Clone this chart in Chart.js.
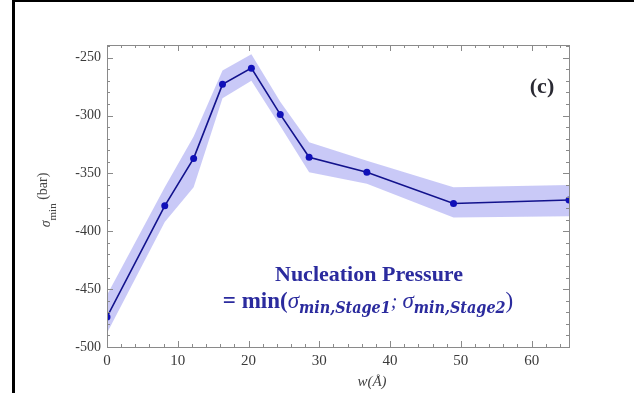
<!DOCTYPE html>
<html><head><meta charset="utf-8">
<script src="https://cdn.jsdelivr.net/npm/chart.js@4"></script>
<style>
html,body{margin:0;padding:0;background:#fff;overflow:hidden;}
canvas{display:block;}
</style></head><body>
<canvas id="c" width="634" height="393"></canvas>
<script>
const widths = [0, 8.16, 12.24, 16.32, 20.4, 24.48, 28.56, 36.72, 48.96, 65.28];
const sigmaMin = [-474, -378, -337, -273, -259, -299, -336, -349, -376, -373];
const bandUpper = [-455, -362, -318, -261, -247, -288, -323, -339, -362, -360];
const bandLower = [-488, -392, -362, -285, -270, -309, -349, -359, -388, -387];
const xTicks = [0, 10, 20, 30, 40, 50, 60];
const yTicks = [-500, -450, -400, -350, -300, -250];
const xMinorTicks = [2,4,6,8,12,14,16,18,22,24,26,28,32,34,36,38,42,44,46,48,52,54,56,58,62,64];
const yMinorTicks = [-490,-480,-470,-460,-440,-430,-420,-410,-390,-380,-370,-360,-340,-330,-320,-310,-290,-280,-270,-260,-240];

const pts = arr => widths.map((w, i) => ({x: w, y: arr[i]}));

const decor = {
  id: 'decor',
  beforeDraw(chart) {
    const ctx = chart.ctx;
    ctx.save();
    ctx.fillStyle = '#fff';
    ctx.fillRect(0, 0, chart.width, chart.height);
    ctx.fillStyle = '#000';
    ctx.fillRect(12, 0, 3, chart.height);
    ctx.fillRect(12, 0, chart.width - 12, 2);
    ctx.restore();
  },
  afterDatasetsDraw(chart) {
    const ctx = chart.ctx, a = chart.chartArea;
    const xs = chart.scales.x, ys = chart.scales.y;
    ctx.save();
    ctx.strokeStyle = '#8a8a8a';
    ctx.lineWidth = 1;
    ctx.strokeRect(Math.round(a.left) + 0.5, Math.round(a.top) + 0.5, Math.round(a.right - a.left), Math.round(a.bottom - a.top));
    ctx.beginPath();
    const tick = (vals, len, isX) => {
      vals.forEach(v => {
        if (isX) {
          const p = Math.round(xs.getPixelForValue(v)) + 0.5;
          ctx.moveTo(p, a.bottom); ctx.lineTo(p, a.bottom - len);
          ctx.moveTo(p, a.top); ctx.lineTo(p, a.top + len);
        } else {
          const p = Math.round(ys.getPixelForValue(v)) + 0.5;
          ctx.moveTo(a.left, p); ctx.lineTo(a.left + len, p);
          ctx.moveTo(a.right, p); ctx.lineTo(a.right - len, p);
        }
      });
    };
    tick(xTicks, 6, true); tick(xMinorTicks, 3, true);
    tick(yTicks, 6, false); tick(yMinorTicks, 3, false);
    ctx.stroke();

    // axis titles
    ctx.fillStyle = '#444';
    ctx.textBaseline = 'alphabetic';
    ctx.font = 'italic 15px "Liberation Serif"';
    ctx.textAlign = 'left';
    const xt = 'w(Å)';
    const wx = ctx.measureText(xt).width;
    ctx.fillText(xt, 372 - wx / 2, 386);

    ctx.save();
    ctx.translate(50, 200);
    ctx.rotate(-Math.PI / 2);
    const s = 'σ';
    ctx.font = '11px "Liberation Serif"';
    const wMin = ctx.measureText('min').width;
    ctx.font = '14px "Liberation Serif"';
    const wBar = ctx.measureText(' (bar)').width;
    ctx.font = 'italic 14px "Liberation Serif"';
    const wS = ctx.measureText(s).width;
    let x0 = -(wS + wMin + wBar) / 2;
    ctx.fillText(s, x0, 0);
    ctx.font = '11px "Liberation Serif"';
    ctx.fillText('min', x0 + wS, 6);
    ctx.font = '14px "Liberation Serif"';
    ctx.fillText(' (bar)', x0 + wS + wMin, -3);
    ctx.restore();

    // panel label
    ctx.fillStyle = '#2a2a33';
    ctx.font = 'bold 22px "Liberation Serif"';
    ctx.textAlign = 'center';
    ctx.fillText('(c)', 542, 93);

    // annotation
    ctx.fillStyle = '#2b2b9e';
    ctx.font = 'bold 22px "Liberation Serif"';
    ctx.fillText('Nucleation Pressure', 369, 281);
    const runs = [
      ['= min(', 'bold 23px "Liberation Serif"', 0],
      ['σ', 'italic 23px "Liberation Serif"', 0],
      ['min,Stage1', 'bold italic 16px "DejaVu Serif Condensed", "DejaVu Serif"', 5],
      ['; ', 'italic 20px "Liberation Serif"', 0],
      ['σ', 'italic 23px "Liberation Serif"', 0],
      ['min,Stage2', 'bold italic 16px "DejaVu Serif Condensed", "DejaVu Serif"', 5],
      [')', '23px "Liberation Serif"', 0]
    ];
    let total = 0;
    runs.forEach(r => { ctx.font = r[1]; total += ctx.measureText(r[0]).width; });
    let cx = 368 - total / 2;
    ctx.textAlign = 'left';
    runs.forEach(r => { ctx.font = r[1]; ctx.fillText(r[0], cx, 308 + r[2]); cx += ctx.measureText(r[0]).width; });
    ctx.restore();
  }
};

new Chart(document.getElementById('c'), {
  type: 'scatter',
  data: {
    datasets: [
      { data: pts(sigmaMin), showLine: true, borderColor: '#12128c', borderWidth: 1.6,
        pointRadius: 3.5, pointBackgroundColor: '#1010b8', pointBorderWidth: 0, fill: false },
      { data: pts(bandUpper), showLine: true, borderWidth: 0, pointRadius: 0,
        backgroundColor: 'rgba(105,105,232,0.36)', fill: '+1' },
      { data: pts(bandLower), showLine: true, borderWidth: 0, pointRadius: 0, fill: false }
    ]
  },
  options: {
    responsive: false,
    animation: false,
    devicePixelRatio: 1,
    layout: { padding: { left: 0, top: 45, right: 65, bottom: 0 } },
    plugins: { legend: { display: false }, tooltip: { enabled: false } },
    scales: {
      x: {
        type: 'linear', min: 0, max: 65.28,
        afterFit: s => { s.height = 46; },
        afterBuildTicks: s => { s.ticks = xTicks.map(v => ({ value: v })); },
        grid: { display: false, drawTicks: false },
        border: { display: false },
        ticks: { padding: 5, color: '#3a3a3a', font: { family: '"Liberation Serif"', size: 15 }, maxRotation: 0 }
      },
      y: {
        type: 'linear', min: -500, max: -239,
        afterFit: s => { s.width = 107; },
        afterBuildTicks: s => { s.ticks = yTicks.map(v => ({ value: v })); },
        grid: { display: false, drawTicks: false },
        border: { display: false },
        ticks: { padding: 6, color: '#3a3a3a', font: { family: '"Liberation Serif"', size: 14 } }
      }
    }
  },
  plugins: [decor]
});
</script>
</body></html>
